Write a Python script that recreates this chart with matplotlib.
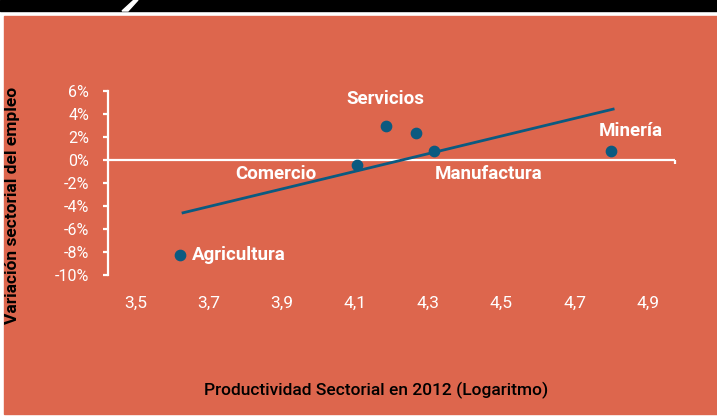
import matplotlib.pyplot as plt
from matplotlib.patches import Rectangle, Polygon

# data
sectores = ['Agricultura', 'Comercio', 'Servicios', 'Servicios_b', 'Manufactura', 'Minería']
productividad = [3.621, 4.105, 4.184, 4.266, 4.315, 4.799]
variacion = [-8.26, -0.43, 2.96, 2.35, 0.78, 0.78]
tendencia_x = [3.630, 4.805]
tendencia_y = [-4.6, 4.4]
x_ticks = [3.5, 3.7, 3.9, 4.1, 4.3, 4.5, 4.7, 4.9]
y_ticks = [-10, -8, -6, -4, -2, 0, 2, 4, 6]

# label placement (offsets in points from the point, alignment)
etiquetas = {
    'Agricultura': ((9, 0), 'left'),
    'Comercio': ((-58, -7), 'center'),
    'Servicios': ((0, 19.5), 'center'),
    'Manufactura': ((1, -17), 'left'),
    'Minería': ((14, 14.5), 'center'),
}

naranja = '#DD664D'
azul = '#0B5A80'
plt.rcParams['font.family'] = ['Roboto', 'DejaVu Sans']

W, H = 717, 418
fig = plt.figure(figsize=(W / 100, H / 100), dpi=100, facecolor='white')

# background panels
fig.patches.append(Rectangle((4 / W, 1 - 414 / H), 1 - 4 / W, (414 - 16) / H,
                             transform=fig.transFigure, color=naranja, zorder=-3))
fig.patches.append(Rectangle((0, 1 - 11 / H), 1, 11 / H,
                             transform=fig.transFigure, color='black', zorder=-3))
fig.patches.append(Polygon([(122 / W, 1 - 11 / H), (128 / W, 1 - 11 / H),
                            (138 / W, 1), (134 / W, 1)],
                           transform=fig.transFigure, color='white', zorder=-2))

ax = fig.add_axes([108 / W, 1 - 275 / H, (675 - 108) / W, (275 - 90.7) / H])
ax.set_facecolor('none')
ax.set_xlim(3.425, 4.974)
ax.set_ylim(-10, 6)

for s in ['top', 'right', 'bottom']:
    ax.spines[s].set_visible(False)
ax.spines['left'].set_color('white')
ax.spines['left'].set_linewidth(1.6)

ax.set_yticks(y_ticks)
ax.set_yticklabels([f'{v}%' for v in y_ticks])
ax.tick_params(axis='y', colors='white', direction='out', length=3.5, width=1.6,
               pad=10, labelsize=11.5)
ax.set_xticks(x_ticks)
ax.set_xticklabels([f'{v:.1f}'.replace('.', ',') for v in x_ticks])
ax.tick_params(axis='x', colors='white', length=0, pad=15, labelsize=12.5)

# zero line with the end tick
ax.axhline(0, color='white', lw=1.6, zorder=2)
ax.plot([ax.get_xlim()[1]] * 2, [0, -0.35], color='white', lw=1.6,
        clip_on=False, solid_capstyle='butt')

ax.plot(tendencia_x, tendencia_y, color=azul, lw=2, zorder=3, clip_on=False)
ax.scatter(productividad, variacion, s=55, color=azul, zorder=4, clip_on=False)

for nombre, x, y in zip(sectores, productividad, variacion):
    if nombre not in etiquetas:
        continue
    off, ha = etiquetas[nombre]
    ax.annotate(nombre, (x, y), xytext=off, textcoords='offset points',
                ha=ha, va='center', color='white', fontsize=13.5,
                fontweight='bold', annotation_clip=False)

ax.set_ylabel('Variación sectorial del empleo', fontsize=12.5, color='black',
              fontweight='semibold')
ax.yaxis.set_label_coords(-0.155, 0.38)
ax.set_xlabel('Productividad Sectorial en 2012 (Logaritmo)', fontsize=12.5,
              color='black', fontweight='medium')
ax.xaxis.set_label_coords(0.473, -0.58)

fig.savefig('out.png', dpi=100, facecolor=fig.get_facecolor())
